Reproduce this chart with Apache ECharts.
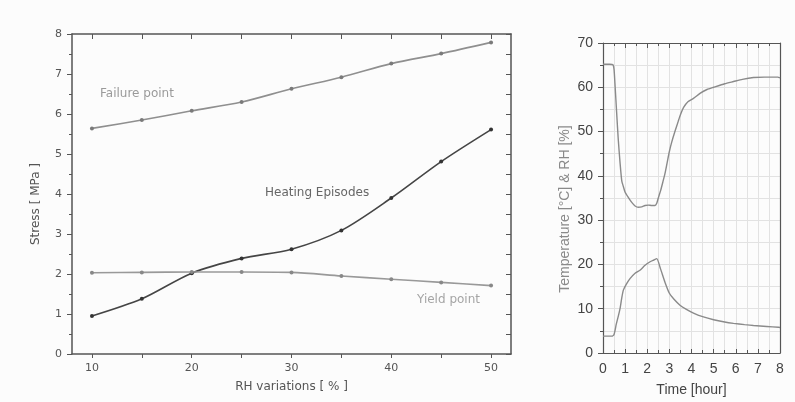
<!DOCTYPE html>
<html>
<head>
<meta charset="utf-8">
<script src="https://cdn.jsdelivr.net/npm/echarts@6/dist/echarts.min.js"></script>
<style>html,body{margin:0;padding:0;background:#fcfcfc;}#c{width:795px;height:402px;}</style>
</head>
<body>
<div id="c"></div>
<script>
// Left chart data
const rhVariations = [10, 15, 20, 25, 30, 35, 40, 45, 50];
const failurePoint = [5.64, 5.85, 6.08, 6.30, 6.63, 6.92, 7.26, 7.51, 7.79];
const heatingEpisodes = [0.95, 1.38, 2.02, 2.39, 2.62, 3.09, 3.90, 4.81, 5.61];
const yieldPoint = [2.03, 2.04, 2.05, 2.05, 2.04, 1.95, 1.87, 1.79, 1.71];
const leftXTicks = [10, 15, 20, 25, 30, 35, 40, 45, 50];
const leftXLabels = [10, 20, 30, 40, 50];

// Right chart data
const rhTime = [0, 0.3, 0.45, 0.5, 0.55, 0.62, 0.69, 0.77, 0.85, 0.92, 1.0, 1.15, 1.3, 1.45, 1.6, 1.75, 1.9, 2.05, 2.2, 2.35, 2.43, 2.5, 2.6, 2.7, 2.8, 2.9, 3.0, 3.1, 3.25, 3.4, 3.5, 3.65, 3.85, 4.09, 4.4, 4.7, 5.0, 5.5, 5.9, 6.3, 6.8, 7.3, 7.9, 8.0];
const rhValues = [65.2, 65.2, 65.1, 64.0, 60.0, 54.0, 48.2, 43.0, 38.8, 37.6, 36.3, 35.1, 34.0, 33.2, 32.9, 33.0, 33.3, 33.4, 33.3, 33.3, 33.8, 35.0, 36.6, 38.5, 40.5, 43.0, 45.5, 47.5, 50.0, 52.3, 53.8, 55.5, 56.8, 57.5, 58.7, 59.5, 60.0, 60.8, 61.3, 61.8, 62.2, 62.3, 62.3, 62.1];
const tempTime = [0, 0.4, 0.5, 0.6, 0.7, 0.77, 0.85, 0.92, 1.05, 1.22, 1.45, 1.67, 1.9, 2.13, 2.3, 2.43, 2.6, 2.8, 3.0, 3.2, 3.48, 3.75, 4.09, 4.5, 5.0, 5.5, 5.9, 6.4, 6.8, 7.4, 7.93, 8.0];
const tempValues = [3.8, 3.8, 4.2, 6.5, 8.5, 10.0, 12.5, 14.2, 15.5, 16.8, 18.0, 18.7, 19.8, 20.6, 21.0, 21.3, 19.0, 16.0, 13.5, 12.2, 10.8, 9.9, 9.0, 8.2, 7.5, 7.0, 6.7, 6.4, 6.2, 6.0, 5.8, 5.75];

const pairs = (xs, ys) => xs.map((x, i) => [x, ys[i]]);
const axisColor = '#555';
const leftFont = 'DejaVu Sans';
const rightFont = 'Liberation Sans';
const gridColor = '#e2e2e2';

const chart = echarts.init(document.getElementById('c'), null, {renderer: 'canvas'});
chart.setOption({
  backgroundColor: '#fcfcfc',
  animation: false,
  grid: [
    {left: 72, top: 34, right: 284, bottom: 48},
    {left: 603, top: 43, right: 15, bottom: 47}
  ],
  xAxis: [
    {
      gridIndex: 0, type: 'value', min: 8, max: 52, position: 'bottom',
      name: 'RH variations [ % ]', nameLocation: 'middle', nameGap: 27,
      nameTextStyle: {fontFamily: leftFont, fontSize: 12, color: '#555'},
      axisLine: {show: true, onZero: false, lineStyle: {color: axisColor, width: 1.5}},
      axisTick: {show: true, inside: false, length: 4, customValues: leftXTicks, lineStyle: {color: axisColor}},
      axisLabel: {customValues: leftXLabels, fontFamily: leftFont, fontSize: 11, color: '#555', margin: 9},
      splitLine: {show: false}
    },
    {
      gridIndex: 0, type: 'value', min: 8, max: 52, position: 'top',
      axisLine: {show: true, onZero: false, lineStyle: {color: axisColor, width: 1.5}},
      axisTick: {show: true, inside: true, length: 5, customValues: leftXTicks, lineStyle: {color: axisColor}},
      axisLabel: {show: false},
      splitLine: {show: false}
    },
    {
      gridIndex: 1, type: 'value', min: 0, max: 8, interval: 1, position: 'bottom',
      name: 'Time [hour]', nameLocation: 'middle', nameGap: 30,
      nameTextStyle: {fontFamily: rightFont, fontSize: 14, color: '#444'},
      axisLine: {show: true, onZero: false, lineStyle: {color: axisColor, width: 1.2}},
      axisTick: {show: true, inside: true, length: 4, lineStyle: {color: axisColor}},
      minorTick: {show: true, splitNumber: 2, length: 3, lineStyle: {color: axisColor}},
      axisLabel: {fontFamily: rightFont, fontSize: 14, color: '#444', margin: 9},
      splitLine: {show: true, lineStyle: {color: gridColor, width: 1}},
      minorSplitLine: {show: true, lineStyle: {color: gridColor, width: 1}}
    },
    {
      gridIndex: 1, type: 'value', min: 0, max: 8, interval: 1, position: 'top',
      axisLine: {show: true, onZero: false, lineStyle: {color: axisColor, width: 1.2}},
      axisTick: {show: true, inside: true, length: 5, lineStyle: {color: axisColor}},
      minorTick: {show: true, splitNumber: 2, length: 3, lineStyle: {color: axisColor}},
      axisLabel: {show: false},
      splitLine: {show: false}
    }
  ],
  yAxis: [
    {
      gridIndex: 0, type: 'value', min: 0, max: 8, interval: 1, position: 'left',
      name: 'Stress [ MPa ]', nameLocation: 'middle', nameGap: 30,
      nameTextStyle: {fontFamily: leftFont, fontSize: 12, color: '#555', padding: [0, 20, 0, 0]},
      axisLine: {show: true, onZero: false, lineStyle: {color: axisColor, width: 1.5}},
      axisTick: {show: true, inside: false, length: 5, lineStyle: {color: axisColor}},
      minorTick: {show: true, splitNumber: 2, length: 3, lineStyle: {color: axisColor}},
      axisLabel: {fontFamily: leftFont, fontSize: 11, color: '#555', margin: 10},
      splitLine: {show: false}
    },
    {
      gridIndex: 0, type: 'value', min: 0, max: 8, interval: 0.5, position: 'right',
      axisLine: {show: true, onZero: false, lineStyle: {color: axisColor, width: 1.5}},
      axisTick: {show: true, inside: true, length: 5, lineStyle: {color: axisColor}},
      axisLabel: {show: false},
      splitLine: {show: false}
    },
    {
      gridIndex: 1, type: 'value', min: 0, max: 70, interval: 10, position: 'left',
      name: 'Temperature [°C] & RH [%]', nameLocation: 'middle', nameGap: 31,
      nameTextStyle: {fontFamily: rightFont, fontSize: 14, color: '#8a8a8a', padding: [0, 22, 0, 0]},
      axisLine: {show: true, onZero: false, lineStyle: {color: axisColor, width: 1.2}},
      axisTick: {show: true, inside: false, length: 5, lineStyle: {color: axisColor}},
      minorTick: {show: true, splitNumber: 2, length: 3, lineStyle: {color: axisColor}},
      axisLabel: {fontFamily: rightFont, fontSize: 14, color: '#444', margin: 10},
      splitLine: {show: true, lineStyle: {color: gridColor, width: 1}},
      minorSplitLine: {show: true, lineStyle: {color: gridColor, width: 1}}
    },
    {
      gridIndex: 1, type: 'value', min: 0, max: 70, interval: 10, position: 'right',
      axisLine: {show: true, onZero: false, lineStyle: {color: axisColor, width: 1.2}},
      axisTick: {show: false},
      axisLabel: {show: false},
      splitLine: {show: false}
    }
  ],
  series: [
    {
      name: 'Failure point', type: 'line', xAxisIndex: 0, yAxisIndex: 0, smooth: 0.3,
      data: pairs(rhVariations, failurePoint),
      symbol: 'circle', symbolSize: 4,
      lineStyle: {color: '#8f8f8f', width: 1.6}, itemStyle: {color: '#7a7a7a'}
    },
    {
      name: 'Heating Episodes', type: 'line', xAxisIndex: 0, yAxisIndex: 0, smooth: 0.3,
      data: pairs(rhVariations, heatingEpisodes),
      symbol: 'circle', symbolSize: 4,
      lineStyle: {color: '#454545', width: 1.6}, itemStyle: {color: '#333'}
    },
    {
      name: 'Yield point', type: 'line', xAxisIndex: 0, yAxisIndex: 0, smooth: 0.3,
      data: pairs(rhVariations, yieldPoint),
      symbol: 'circle', symbolSize: 4,
      lineStyle: {color: '#999', width: 1.6}, itemStyle: {color: '#888'}
    },
    {
      name: 'RH', type: 'line', xAxisIndex: 2, yAxisIndex: 2, smooth: 0.2,
      data: pairs(rhTime, rhValues), showSymbol: false,
      lineStyle: {color: '#8a8a8a', width: 1.4}
    },
    {
      name: 'Temperature', type: 'line', xAxisIndex: 2, yAxisIndex: 2, smooth: 0.2,
      data: pairs(tempTime, tempValues), showSymbol: false,
      lineStyle: {color: '#8a8a8a', width: 1.4}
    }
  ],
  graphic: [
    {type: 'text', left: 100, top: 88, style: {text: 'Failure point', fontFamily: leftFont, fontSize: 12, fill: '#9a9a9a'}},
    {type: 'text', left: 265, top: 187, style: {text: 'Heating Episodes', fontFamily: leftFont, fontSize: 12, fill: '#666'}},
    {type: 'text', left: 417, top: 294, style: {text: 'Yield point', fontFamily: leftFont, fontSize: 12, fill: '#a5a5a5'}}
  ]
});
</script>
</body>
</html>
